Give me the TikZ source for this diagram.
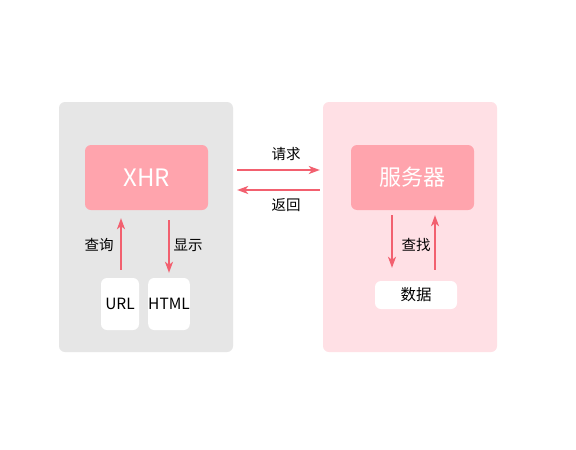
\documentclass[tikz,border=0pt]{standalone}
\usepackage{fontspec}
\setmainfont{Noto Sans CJK SC}
\usetikzlibrary{arrows.meta}
\definecolor{grayp}{HTML}{E6E6E6}
\definecolor{pinkp}{HTML}{FFE0E5}
\definecolor{boxc}{HTML}{FFA4AD}
\definecolor{arrc}{HTML}{F2606F}
\begin{document}
\begin{tikzpicture}[x=1pt,y=-1pt,
  panel/.style={draw=none,rounded corners=6pt,minimum width=174pt,minimum height=250pt,inner sep=0pt},
  bigbox/.style={fill=boxc,rounded corners=6pt,minimum width=123pt,minimum height=65pt,inner sep=0pt,text=white,font=\fontsize{22}{26}\selectfont},
  smallbox/.style={fill=white,rounded corners=6pt,inner sep=0pt,font=\fontsize{15.5}{18}\selectfont},
  lbl/.style={font=\fontsize{14.5}{17}\selectfont,inner sep=0pt},
  arr/.style={draw=arrc,line width=1.6pt,-{Stealth[length=11pt,width=8pt,inset=3pt]}}
]
\useasboundingbox (0,0) rectangle (576,450);
\fill[white] (0,0) rectangle (576,450);
\node[panel,fill=grayp] (lp) at (146,227) {};
\node[panel,fill=pinkp] (rp) at (410,227) {};
\node[bigbox,font=\fontsize{24}{28}\selectfont] (xhr) at (146.5,177.5) {XHR};
\node[bigbox] (srv) at (412.5,177.5) {服务器};
\node[smallbox,minimum width=38pt,minimum height=52pt] (url) at (120,304) {URL};
\node[smallbox,minimum width=38pt,minimum height=52pt] (html) at (169,304) {HTML};
\node[smallbox,minimum width=82pt,minimum height=28pt] (data) at (416,295) {数据};
% left internal arrows
\draw[arr,shorten <=8pt,shorten >=8pt] ([xshift=1pt]url.north) -- ([xshift=1pt]url.north |- xhr.south);
\node[lbl] (q) at (99,245) {查询};
\draw[arr,shorten <=10pt,shorten >=5pt] (html.north |- xhr.south) -- (html.north);
\node[lbl] (s) at (188,245) {显示};
% middle arrows
\draw[arr,shorten <=4pt,shorten >=3pt] ([yshift=7.5pt]lp.east |- xhr.center) -- ([yshift=7.5pt]rp.west |- xhr.center);
\node[lbl] (req) at (286,154) {请求};
\draw[arr,shorten <=3pt,shorten >=4pt] ([yshift=-12.5pt]rp.west |- xhr.center) -- ([yshift=-12.5pt]lp.east |- xhr.center);
\node[lbl] (ret) at (286,205) {返回};
% right internal arrows
\draw[arr,shorten <=5pt,shorten >=13pt] ([xshift=-24pt]data.north |- srv.south) -- ([xshift=-24pt]data.north);
\draw[arr,shorten <=11pt,shorten >=5pt] ([xshift=19pt]data.north) -- ([xshift=19pt]data.north |- srv.south);
\node[lbl] (f) at (416,245) {查找};
\end{tikzpicture}
\end{document}
